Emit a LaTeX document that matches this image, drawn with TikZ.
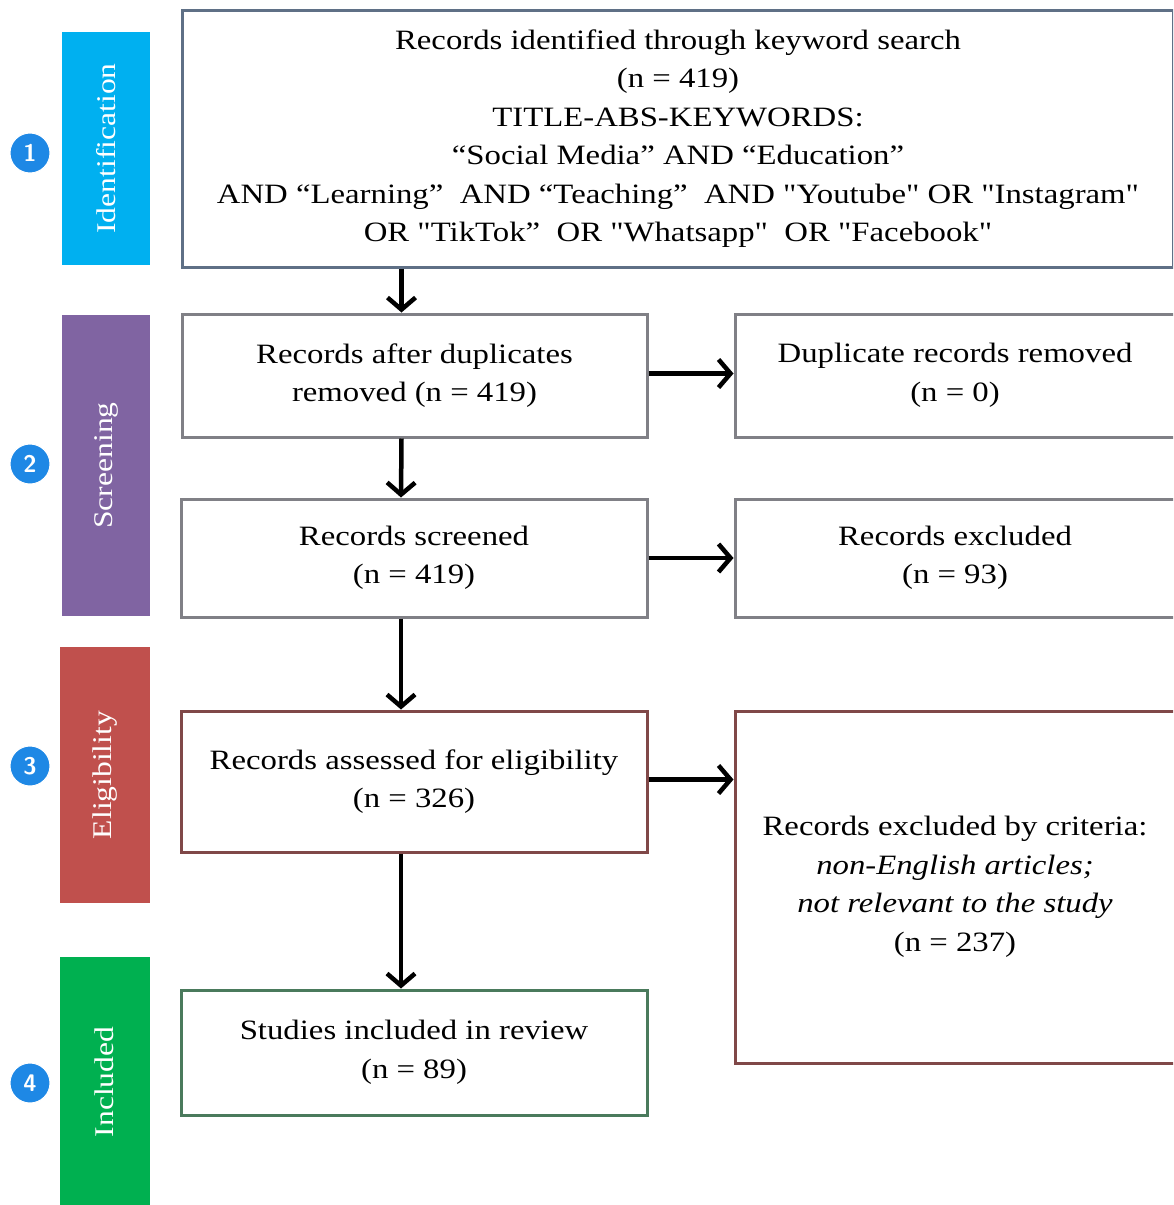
\documentclass[tikz,border=0pt]{standalone}
\usepackage{fontspec}
\setmainfont{Liberation Serif}[FakeStretch=1.17, Ligatures=TeXOff]
\usetikzlibrary{arrows.meta}
\definecolor{cIdent}{RGB}{0,176,240}
\definecolor{cScreen}{RGB}{128,100,162}
\definecolor{cElig}{RGB}{192,80,77}
\definecolor{cIncl}{RGB}{0,176,80}
\definecolor{cCirc}{RGB}{30,136,229}
\definecolor{bBlue}{RGB}{95,112,134}
\definecolor{bGray}{RGB}{128,128,134}
\definecolor{bRed}{RGB}{128,72,72}
\definecolor{bGreen}{RGB}{74,122,92}
\begin{document}
\begin{tikzpicture}[x=1pt,y=-1pt,
  box/.style={draw, line width=3pt, fill=white, align=center, inner sep=0pt,
    font=\fontsize{28}{38.5}\selectfont},
  sidebar/.style={draw=none, inner sep=0pt},
  sidelabel/.style={text=white, rotate=90, font=\fontsize{27}{30}\selectfont},
  numcirc/.style={circle, fill=cCirc, draw=white, line width=1pt, minimum size=40pt, inner sep=0pt,
    text=white, font=\sffamily\bfseries\fontsize{24}{24}\selectfont},
  arr/.style={line width=4.5pt, -{Straight Barb[length=12pt,width=28pt,line width=4.5pt]}}]
\useasboundingbox (0,0) rectangle (1173,1205);
\clip (0,0) rectangle (1173,1205);
% side bars
\node[sidebar, fill=cIdent, minimum width=88pt, minimum height=233pt] (s1) at (106,148.5) {};
\node[sidebar, fill=cScreen, minimum width=88pt, minimum height=301pt] (s2) at (106,465.5) {};
\node[sidebar, fill=cElig, minimum width=90pt, minimum height=256pt] (s3) at (105,775) {};
\node[sidebar, fill=cIncl, minimum width=90pt, minimum height=260pt] (s4) at (105,1087) {};
\node[sidelabel] (l1) at (s1.center) {Identification};
\node[sidelabel] (l2) at (s2.center) {Screening};
\node[sidelabel] (l3) at (s3.center) {Eligibility};
\node[sidelabel] (l4) at (104,1082) {Included};
% circles
\node[numcirc] (c1) at (30,153) {1};
\node[numcirc] (c2) at (30,464) {2};
\node[numcirc] (c3) at (30,766) {3};
\node[numcirc] (c4) at (30,1083) {4};
% boxes
\node[box, draw=bBlue, minimum width=991pt, minimum height=257pt] (b1) at (678,138.5)
 {Records identified through keyword search\\(n = 419)\\TITLE-ABS-KEYWORDS:\\“Social Media” AND “Education”\\AND “Learning”\ \ AND “Teaching”\ \ AND "Youtube"\ OR "Instagram"\\OR "TikTok”\ \ OR "Whatsapp"\ \ OR "Facebook"};
\node[box, draw=bGray, minimum width=465pt, minimum height=123pt] (b2) at (414.5,375.5)
 {Records after duplicates\\removed (n = 419)};
\node[box, draw=bGray, minimum width=440pt, minimum height=123pt] (b3) at (955,375.5)
 {Duplicate records removed\\(n = 0)};
\node[box, draw=bGray, minimum width=466pt, minimum height=118pt] (b4) at (414,558)
 {Records screened\\(n = 419)};
\node[box, draw=bGray, minimum width=440pt, minimum height=118pt] (b5) at (955,558)
 {Records excluded\\(n = 93)};
\node[box, draw=bRed, minimum width=466pt, minimum height=141pt] (b6) at (414,781.5)
 {Records assessed for eligibility\\(n = 326)};
\node[box, draw=bRed, minimum width=440pt, minimum height=352pt] (b7) at (955,887)
 {Records excluded by criteria:\\\textit{non-English articles;}\\\textit{not relevant\ to the study}\\(n = 237)};
\node[box, draw=bGreen, minimum width=466pt, minimum height=125pt] (b8) at (414,1052.5)
 {Studies included in review\\(n = 89)};
% arrows
\draw[arr] ([xshift=-13pt]b2.north |- b1.south) -- ([xshift=-13pt]b2.north);
\draw[arr] ([xshift=-13pt]b2.south) -- ([xshift=-13pt]b4.north);
\draw[arr] ([xshift=-13pt]b4.south) -- ([xshift=-13pt]b6.north);
\draw[arr] ([xshift=-13pt]b6.south) -- ([xshift=-13pt]b8.north);
\draw[arr] ([yshift=2pt]b2.east) -- ([yshift=2pt]b2.east -| b3.west);
\draw[arr] (b4.east) -- (b4.east -| b5.west);
\draw[arr] ([yshift=2pt]b6.east) -- ([yshift=2pt]b6.east -| b7.west);
\end{tikzpicture}
\end{document}
